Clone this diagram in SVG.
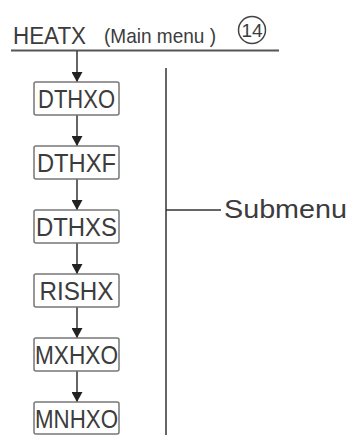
<svg xmlns="http://www.w3.org/2000/svg" width="349" height="435" viewBox="0 0 349 435">
<style>
.box{fill:#fff;stroke:#777;stroke-width:1.5}
.lbl{font-family:"Liberation Sans",Arial,sans-serif;font-size:25px;fill:#3c3c3c;text-anchor:middle}
.ln{stroke:#333;stroke-width:1.5;fill:none}
.hd{font-family:"Liberation Sans",Arial,sans-serif;fill:#3c3c3c}
</style>
<defs>
<marker id="ah" viewBox="0 0 10 11" refX="10" refY="5.5" markerWidth="10" markerHeight="11" markerUnits="userSpaceOnUse" orient="auto">
<path d="M0,0 L10,5.5 L0,11 Z" fill="#222"/>
</marker>
</defs>
<rect width="349" height="435" fill="#fff"/>
<g id="header">
<text class="hd" x="13" y="44" font-size="23" textLength="73" lengthAdjust="spacingAndGlyphs">HEATX</text>
<text class="hd" x="104" y="43" font-size="21" textLength="112" lengthAdjust="spacingAndGlyphs">(Main menu )</text>
<circle cx="252" cy="30" r="13.5" fill="none" stroke="#444" stroke-width="1.5"/>
<text class="hd" x="252" y="37" font-size="19" text-anchor="middle">14</text>
<line x1="11" y1="50.5" x2="279" y2="50.5" stroke="#555" stroke-width="2"/>
</g>
<g id="connectors">
<line class="ln" x1="77" y1="51" x2="77" y2="82" marker-end="url(#ah)"/>
<line class="ln" x1="77" y1="115" x2="77" y2="146" marker-end="url(#ah)"/>
<line class="ln" x1="77" y1="179" x2="77" y2="210" marker-end="url(#ah)"/>
<line class="ln" x1="77" y1="243" x2="77" y2="274" marker-end="url(#ah)"/>
<line class="ln" x1="77" y1="307" x2="77" y2="338" marker-end="url(#ah)"/>
<line class="ln" x1="77" y1="371" x2="77" y2="402" marker-end="url(#ah)"/>
<line class="ln" x1="166" y1="68" x2="166" y2="435" stroke="#444"/>
<line class="ln" x1="166" y1="210" x2="221" y2="210" stroke="#444"/>
</g>
<g id="n1"><rect class="box" x="34" y="82" width="85" height="33" rx="2"/><text class="lbl" x="76.5" y="108" textLength="77" lengthAdjust="spacingAndGlyphs">DTHXO</text></g>
<g id="n2"><rect class="box" x="34" y="146" width="85" height="33" rx="2"/><text class="lbl" x="76.5" y="172" textLength="79" lengthAdjust="spacingAndGlyphs">DTHXF</text></g>
<g id="n3"><rect class="box" x="34" y="210" width="85" height="33" rx="2"/><text class="lbl" x="76.5" y="236" textLength="81" lengthAdjust="spacingAndGlyphs">DTHXS</text></g>
<g id="n4"><rect class="box" x="34" y="274" width="85" height="33" rx="2"/><text class="lbl" x="76.5" y="300" textLength="74" lengthAdjust="spacingAndGlyphs">RISHX</text></g>
<g id="n5"><rect class="box" x="34" y="338" width="85" height="33" rx="2"/><text class="lbl" x="76.5" y="364" textLength="83" lengthAdjust="spacingAndGlyphs">MXHXO</text></g>
<g id="n6"><rect class="box" x="34" y="402" width="85" height="32" rx="2"/><text class="lbl" x="76.5" y="428" textLength="83" lengthAdjust="spacingAndGlyphs">MNHXO</text></g>
<g id="submenu"><text class="hd" x="224" y="218" font-size="25" textLength="123" lengthAdjust="spacingAndGlyphs">Submenu</text></g>
</svg>
